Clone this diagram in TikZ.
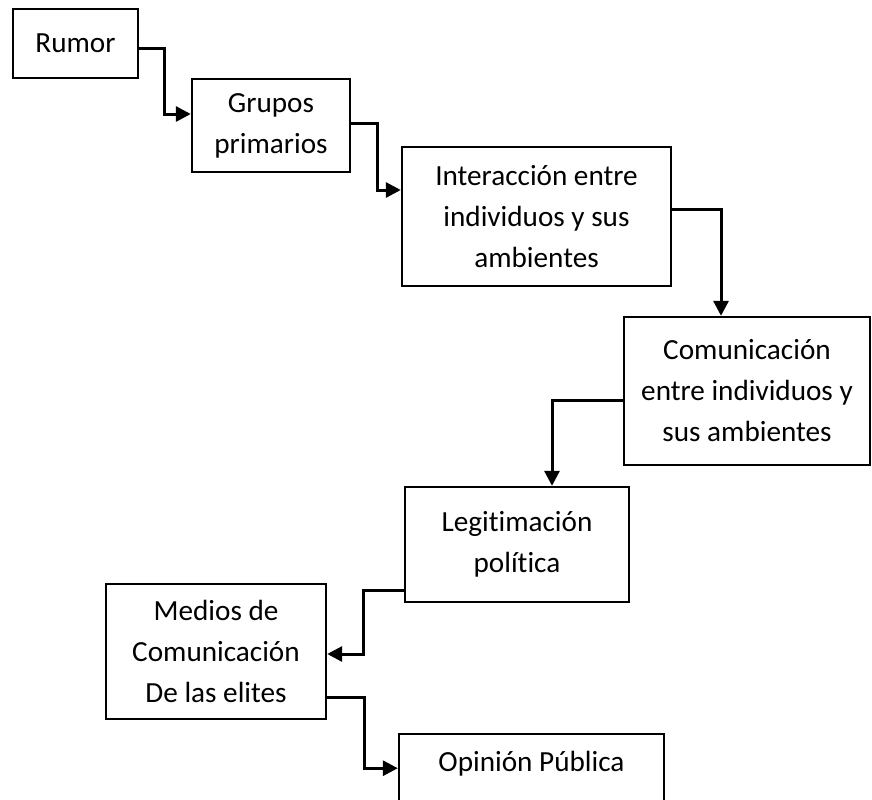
\documentclass[tikz,border=0pt]{standalone}
\usepackage{fontspec}
\setmainfont{Carlito}[Ligatures=CommonOff]
\usepackage{tikz}
\usetikzlibrary{arrows.meta}
\usetikzlibrary{positioning}
\tikzstyle{box} = [rectangle, draw=black, line width=1.2pt, text centered, align=center, font=\fontsize{14.6pt}{20.5pt}\selectfont]
\tikzstyle{arrow} = [line width=1.5pt, -{Triangle[length=7.5pt, width=7.5pt]}]

\begin{document}
\begin{tikzpicture}[node distance=50pt]
        \useasboundingbox (-37.75pt,21.75pt) rectangle (398.25pt,-377.75pt);
        \clip (-37.75pt,21.75pt) rectangle (398.25pt,-377.75pt);

        \node (rumor) [box, minimum width=62.5pt, minimum height=34.5pt] {Rumor};
        \node (grupos) [box, right of=rumor, xshift=47.75pt, yshift=-41pt, minimum width=79pt, minimum height=46.5pt] {Grupos \\ primarios};
        \node (inter) [box, right of=grupos, xshift=82.75pt, yshift=-45.5pt, minimum width=134.5pt, minimum height=69.5pt] {Interacción entre \\ individuos y sus \\ ambientes};
        \node (comun) [box, below of=inter, xshift=105.25pt, yshift=-37.25pt, minimum width=123pt, minimum height=74pt] {Comunicación \\ entre individuos y \\ sus ambientes};
        \node (legit) [box, below of=comun, xshift=-115pt, yshift=-26.75pt, minimum width=112pt, minimum height=57.5pt] {Legitimación \\ política};
        \node (medios) [box, left of=legit, xshift=-100.5pt, yshift=-53.5pt, minimum width=110pt, minimum height=67.5pt] {Medios de \\ Comunicación \\ De las elites};
        \node (opinion) [box, right of=medios, anchor=north, xshift=107.75pt, yshift=-40.75pt, minimum width=132.5pt, text height=12pt, text depth=60pt, inner ysep=6.5pt] {Opinión Pública};

        \draw [arrow] ([yshift=-2.25pt]rumor.east) -- ++(12.5pt,0) |- ([yshift=5.75pt]grupos.west);
        \draw [arrow] ([yshift=1.25pt]grupos.east) -- ++(13pt,0) |- ([yshift=13.25pt]inter.west);
        \draw [arrow] ([yshift=3.75pt]inter.east) -| ([xshift=-13pt]comun.north);
        \draw [arrow] ([yshift=-4.5pt]comun.west) -| ([xshift=17.5pt]legit.north);
        \draw [arrow] ([yshift=-22.75pt]legit.west) -- ++(-20pt,0) |- ([yshift=-1.25pt]medios.east);
        \draw [arrow] ([yshift=-22.75pt]medios.east) -- ++(18.5pt,0) |- ([yshift=1.5pt]opinion.base west);
    \end{tikzpicture}
\end{document}
